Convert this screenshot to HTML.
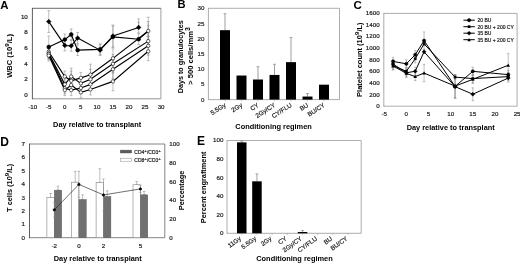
<!DOCTYPE html>
<html><head><meta charset="utf-8"><title>Figure</title>
<style>
html,body{margin:0;padding:0;background:#fff;}
body{width:520px;height:263px;overflow:hidden;}
svg{display:block;font-family:"Liberation Sans", sans-serif;filter:blur(0.3px);}
</style></head><body>
<svg width="520" height="263" viewBox="0 0 520 263">
<rect width="520" height="263" fill="#fff"/>
<line x1="160.90" y1="8.30" x2="160.90" y2="98.80" stroke="#888" stroke-width="0.8"/>
<line x1="32.40" y1="98.80" x2="160.90" y2="98.80" stroke="#777" stroke-width="0.8"/>
<line x1="32.40" y1="8.30" x2="160.90" y2="8.30" stroke="#444" stroke-width="0.8"/>
<line x1="32.40" y1="7.90" x2="32.40" y2="99.20" stroke="#333" stroke-width="0.8"/>
<text x="27.80" y="96.80" font-size="6.2" text-anchor="end" stroke="#222" stroke-width="0.18" fill="#111">0</text>
<text x="27.80" y="81.16" font-size="6.2" text-anchor="end" stroke="#222" stroke-width="0.18" fill="#111">2</text>
<text x="27.80" y="65.52" font-size="6.2" text-anchor="end" stroke="#222" stroke-width="0.18" fill="#111">4</text>
<text x="27.80" y="49.88" font-size="6.2" text-anchor="end" stroke="#222" stroke-width="0.18" fill="#111">6</text>
<text x="27.80" y="34.24" font-size="6.2" text-anchor="end" stroke="#222" stroke-width="0.18" fill="#111">8</text>
<text x="27.80" y="18.60" font-size="6.2" text-anchor="end" stroke="#222" stroke-width="0.18" fill="#111">10</text>
<text x="32.70" y="108.70" font-size="6.2" text-anchor="middle" stroke="#222" stroke-width="0.18" fill="#111">-10</text>
<text x="48.75" y="108.70" font-size="6.2" text-anchor="middle" stroke="#222" stroke-width="0.18" fill="#111">-5</text>
<text x="64.80" y="108.70" font-size="6.2" text-anchor="middle" stroke="#222" stroke-width="0.18" fill="#111">0</text>
<text x="80.85" y="108.70" font-size="6.2" text-anchor="middle" stroke="#222" stroke-width="0.18" fill="#111">5</text>
<text x="96.90" y="108.70" font-size="6.2" text-anchor="middle" stroke="#222" stroke-width="0.18" fill="#111">10</text>
<text x="112.95" y="108.70" font-size="6.2" text-anchor="middle" stroke="#222" stroke-width="0.18" fill="#111">15</text>
<text x="129.00" y="108.70" font-size="6.2" text-anchor="middle" stroke="#222" stroke-width="0.18" fill="#111">20</text>
<text x="145.05" y="108.70" font-size="6.2" text-anchor="middle" stroke="#222" stroke-width="0.18" fill="#111">25</text>
<text x="161.10" y="108.70" font-size="6.2" text-anchor="middle" stroke="#222" stroke-width="0.18" fill="#111">30</text>
<text x="97.10" y="127.40" font-size="7.4" text-anchor="middle" font-weight="bold" textLength="88" lengthAdjust="spacingAndGlyphs" fill="#000">Day relative to transplant</text>
<text x="12.50" y="55.90" font-size="7.4" text-anchor="middle" font-weight="bold" transform="rotate(-90 12.50 55.90)" textLength="43.8" lengthAdjust="spacingAndGlyphs" fill="#000">WBC (10<tspan dy="-3.4" font-size="6.2">9</tspan><tspan dy="3.4">/L)</tspan></text>
<text x="0.20" y="9.00" font-size="11.4" text-anchor="start" font-weight="bold" fill="#000">A</text>
<line x1="48.75" y1="46.22" x2="48.75" y2="57.16" stroke="#8a8a8a" stroke-width="0.55"/>
<line x1="47.35" y1="46.22" x2="50.15" y2="46.22" stroke="#8a8a8a" stroke-width="0.55"/>
<line x1="47.35" y1="57.16" x2="50.15" y2="57.16" stroke="#8a8a8a" stroke-width="0.55"/>
<line x1="64.80" y1="71.01" x2="64.80" y2="81.95" stroke="#8a8a8a" stroke-width="0.55"/>
<line x1="63.40" y1="71.01" x2="66.20" y2="71.01" stroke="#8a8a8a" stroke-width="0.55"/>
<line x1="63.40" y1="81.95" x2="66.20" y2="81.95" stroke="#8a8a8a" stroke-width="0.55"/>
<line x1="71.22" y1="75.31" x2="71.22" y2="86.25" stroke="#8a8a8a" stroke-width="0.55"/>
<line x1="69.82" y1="75.31" x2="72.62" y2="75.31" stroke="#8a8a8a" stroke-width="0.55"/>
<line x1="69.82" y1="86.25" x2="72.62" y2="86.25" stroke="#8a8a8a" stroke-width="0.55"/>
<line x1="80.85" y1="72.41" x2="80.85" y2="83.36" stroke="#8a8a8a" stroke-width="0.55"/>
<line x1="79.45" y1="72.41" x2="82.25" y2="72.41" stroke="#8a8a8a" stroke-width="0.55"/>
<line x1="79.45" y1="83.36" x2="82.25" y2="83.36" stroke="#8a8a8a" stroke-width="0.55"/>
<line x1="90.48" y1="69.21" x2="90.48" y2="80.15" stroke="#8a8a8a" stroke-width="0.55"/>
<line x1="89.08" y1="69.21" x2="91.88" y2="69.21" stroke="#8a8a8a" stroke-width="0.55"/>
<line x1="89.08" y1="80.15" x2="91.88" y2="80.15" stroke="#8a8a8a" stroke-width="0.55"/>
<line x1="112.95" y1="48.95" x2="112.95" y2="67.72" stroke="#8a8a8a" stroke-width="0.55"/>
<line x1="111.55" y1="48.95" x2="114.35" y2="48.95" stroke="#8a8a8a" stroke-width="0.55"/>
<line x1="111.55" y1="67.72" x2="114.35" y2="67.72" stroke="#8a8a8a" stroke-width="0.55"/>
<line x1="148.26" y1="21.58" x2="148.26" y2="40.35" stroke="#8a8a8a" stroke-width="0.55"/>
<line x1="146.86" y1="21.58" x2="149.66" y2="21.58" stroke="#8a8a8a" stroke-width="0.55"/>
<line x1="146.86" y1="40.35" x2="149.66" y2="40.35" stroke="#8a8a8a" stroke-width="0.55"/>
<line x1="48.75" y1="47.78" x2="48.75" y2="58.73" stroke="#8a8a8a" stroke-width="0.55"/>
<line x1="47.35" y1="47.78" x2="50.15" y2="47.78" stroke="#8a8a8a" stroke-width="0.55"/>
<line x1="47.35" y1="58.73" x2="50.15" y2="58.73" stroke="#8a8a8a" stroke-width="0.55"/>
<line x1="64.80" y1="78.90" x2="64.80" y2="89.85" stroke="#8a8a8a" stroke-width="0.55"/>
<line x1="63.40" y1="78.90" x2="66.20" y2="78.90" stroke="#8a8a8a" stroke-width="0.55"/>
<line x1="63.40" y1="89.85" x2="66.20" y2="89.85" stroke="#8a8a8a" stroke-width="0.55"/>
<line x1="71.22" y1="71.01" x2="71.22" y2="81.95" stroke="#8a8a8a" stroke-width="0.55"/>
<line x1="69.82" y1="71.01" x2="72.62" y2="71.01" stroke="#8a8a8a" stroke-width="0.55"/>
<line x1="69.82" y1="81.95" x2="72.62" y2="81.95" stroke="#8a8a8a" stroke-width="0.55"/>
<line x1="80.85" y1="77.89" x2="80.85" y2="88.84" stroke="#8a8a8a" stroke-width="0.55"/>
<line x1="79.45" y1="77.89" x2="82.25" y2="77.89" stroke="#8a8a8a" stroke-width="0.55"/>
<line x1="79.45" y1="88.84" x2="82.25" y2="88.84" stroke="#8a8a8a" stroke-width="0.55"/>
<line x1="90.48" y1="73.82" x2="90.48" y2="84.77" stroke="#8a8a8a" stroke-width="0.55"/>
<line x1="89.08" y1="73.82" x2="91.88" y2="73.82" stroke="#8a8a8a" stroke-width="0.55"/>
<line x1="89.08" y1="84.77" x2="91.88" y2="84.77" stroke="#8a8a8a" stroke-width="0.55"/>
<line x1="112.95" y1="54.43" x2="112.95" y2="73.19" stroke="#8a8a8a" stroke-width="0.55"/>
<line x1="111.55" y1="54.43" x2="114.35" y2="54.43" stroke="#8a8a8a" stroke-width="0.55"/>
<line x1="111.55" y1="73.19" x2="114.35" y2="73.19" stroke="#8a8a8a" stroke-width="0.55"/>
<line x1="148.26" y1="31.75" x2="148.26" y2="50.52" stroke="#8a8a8a" stroke-width="0.55"/>
<line x1="146.86" y1="31.75" x2="149.66" y2="31.75" stroke="#8a8a8a" stroke-width="0.55"/>
<line x1="146.86" y1="50.52" x2="149.66" y2="50.52" stroke="#8a8a8a" stroke-width="0.55"/>
<line x1="48.75" y1="48.56" x2="48.75" y2="59.51" stroke="#8a8a8a" stroke-width="0.55"/>
<line x1="47.35" y1="48.56" x2="50.15" y2="48.56" stroke="#8a8a8a" stroke-width="0.55"/>
<line x1="47.35" y1="59.51" x2="50.15" y2="59.51" stroke="#8a8a8a" stroke-width="0.55"/>
<line x1="64.80" y1="82.81" x2="64.80" y2="93.76" stroke="#8a8a8a" stroke-width="0.55"/>
<line x1="63.40" y1="82.81" x2="66.20" y2="82.81" stroke="#8a8a8a" stroke-width="0.55"/>
<line x1="63.40" y1="93.76" x2="66.20" y2="93.76" stroke="#8a8a8a" stroke-width="0.55"/>
<line x1="71.22" y1="84.69" x2="71.22" y2="95.64" stroke="#8a8a8a" stroke-width="0.55"/>
<line x1="69.82" y1="84.69" x2="72.62" y2="84.69" stroke="#8a8a8a" stroke-width="0.55"/>
<line x1="69.82" y1="95.64" x2="72.62" y2="95.64" stroke="#8a8a8a" stroke-width="0.55"/>
<line x1="80.85" y1="82.50" x2="80.85" y2="93.45" stroke="#8a8a8a" stroke-width="0.55"/>
<line x1="79.45" y1="82.50" x2="82.25" y2="82.50" stroke="#8a8a8a" stroke-width="0.55"/>
<line x1="79.45" y1="93.45" x2="82.25" y2="93.45" stroke="#8a8a8a" stroke-width="0.55"/>
<line x1="90.48" y1="78.90" x2="90.48" y2="89.85" stroke="#8a8a8a" stroke-width="0.55"/>
<line x1="89.08" y1="78.90" x2="91.88" y2="78.90" stroke="#8a8a8a" stroke-width="0.55"/>
<line x1="89.08" y1="89.85" x2="91.88" y2="89.85" stroke="#8a8a8a" stroke-width="0.55"/>
<line x1="112.95" y1="59.90" x2="112.95" y2="78.67" stroke="#8a8a8a" stroke-width="0.55"/>
<line x1="111.55" y1="59.90" x2="114.35" y2="59.90" stroke="#8a8a8a" stroke-width="0.55"/>
<line x1="111.55" y1="78.67" x2="114.35" y2="78.67" stroke="#8a8a8a" stroke-width="0.55"/>
<line x1="148.26" y1="36.44" x2="148.26" y2="55.21" stroke="#8a8a8a" stroke-width="0.55"/>
<line x1="146.86" y1="36.44" x2="149.66" y2="36.44" stroke="#8a8a8a" stroke-width="0.55"/>
<line x1="146.86" y1="55.21" x2="149.66" y2="55.21" stroke="#8a8a8a" stroke-width="0.55"/>
<line x1="48.75" y1="50.13" x2="48.75" y2="61.07" stroke="#8a8a8a" stroke-width="0.55"/>
<line x1="47.35" y1="50.13" x2="50.15" y2="50.13" stroke="#8a8a8a" stroke-width="0.55"/>
<line x1="47.35" y1="61.07" x2="50.15" y2="61.07" stroke="#8a8a8a" stroke-width="0.55"/>
<line x1="64.80" y1="84.69" x2="64.80" y2="95.64" stroke="#8a8a8a" stroke-width="0.55"/>
<line x1="63.40" y1="84.69" x2="66.20" y2="84.69" stroke="#8a8a8a" stroke-width="0.55"/>
<line x1="63.40" y1="95.64" x2="66.20" y2="95.64" stroke="#8a8a8a" stroke-width="0.55"/>
<line x1="71.22" y1="79.61" x2="71.22" y2="90.56" stroke="#8a8a8a" stroke-width="0.55"/>
<line x1="69.82" y1="79.61" x2="72.62" y2="79.61" stroke="#8a8a8a" stroke-width="0.55"/>
<line x1="69.82" y1="90.56" x2="72.62" y2="90.56" stroke="#8a8a8a" stroke-width="0.55"/>
<line x1="80.85" y1="86.88" x2="80.85" y2="97.83" stroke="#8a8a8a" stroke-width="0.55"/>
<line x1="79.45" y1="86.88" x2="82.25" y2="86.88" stroke="#8a8a8a" stroke-width="0.55"/>
<line x1="79.45" y1="97.83" x2="82.25" y2="97.83" stroke="#8a8a8a" stroke-width="0.55"/>
<line x1="90.48" y1="83.99" x2="90.48" y2="94.93" stroke="#8a8a8a" stroke-width="0.55"/>
<line x1="89.08" y1="83.99" x2="91.88" y2="83.99" stroke="#8a8a8a" stroke-width="0.55"/>
<line x1="89.08" y1="94.93" x2="91.88" y2="94.93" stroke="#8a8a8a" stroke-width="0.55"/>
<line x1="112.95" y1="72.02" x2="112.95" y2="90.79" stroke="#8a8a8a" stroke-width="0.55"/>
<line x1="111.55" y1="72.02" x2="114.35" y2="72.02" stroke="#8a8a8a" stroke-width="0.55"/>
<line x1="111.55" y1="90.79" x2="114.35" y2="90.79" stroke="#8a8a8a" stroke-width="0.55"/>
<line x1="148.26" y1="41.91" x2="148.26" y2="60.68" stroke="#8a8a8a" stroke-width="0.55"/>
<line x1="146.86" y1="41.91" x2="149.66" y2="41.91" stroke="#8a8a8a" stroke-width="0.55"/>
<line x1="146.86" y1="60.68" x2="149.66" y2="60.68" stroke="#8a8a8a" stroke-width="0.55"/>
<line x1="48.75" y1="10.64" x2="48.75" y2="32.53" stroke="#8a8a8a" stroke-width="0.55"/>
<line x1="47.35" y1="10.64" x2="50.15" y2="10.64" stroke="#8a8a8a" stroke-width="0.55"/>
<line x1="47.35" y1="32.53" x2="50.15" y2="32.53" stroke="#8a8a8a" stroke-width="0.55"/>
<line x1="64.80" y1="39.96" x2="64.80" y2="50.91" stroke="#8a8a8a" stroke-width="0.55"/>
<line x1="63.40" y1="39.96" x2="66.20" y2="39.96" stroke="#8a8a8a" stroke-width="0.55"/>
<line x1="63.40" y1="50.91" x2="66.20" y2="50.91" stroke="#8a8a8a" stroke-width="0.55"/>
<line x1="71.22" y1="40.35" x2="71.22" y2="51.30" stroke="#8a8a8a" stroke-width="0.55"/>
<line x1="69.82" y1="40.35" x2="72.62" y2="40.35" stroke="#8a8a8a" stroke-width="0.55"/>
<line x1="69.82" y1="51.30" x2="72.62" y2="51.30" stroke="#8a8a8a" stroke-width="0.55"/>
<line x1="77.64" y1="32.53" x2="77.64" y2="43.48" stroke="#8a8a8a" stroke-width="0.55"/>
<line x1="76.24" y1="32.53" x2="79.04" y2="32.53" stroke="#8a8a8a" stroke-width="0.55"/>
<line x1="76.24" y1="43.48" x2="79.04" y2="43.48" stroke="#8a8a8a" stroke-width="0.55"/>
<line x1="100.11" y1="44.65" x2="100.11" y2="55.60" stroke="#8a8a8a" stroke-width="0.55"/>
<line x1="98.71" y1="44.65" x2="101.51" y2="44.65" stroke="#8a8a8a" stroke-width="0.55"/>
<line x1="98.71" y1="55.60" x2="101.51" y2="55.60" stroke="#8a8a8a" stroke-width="0.55"/>
<line x1="112.95" y1="25.10" x2="112.95" y2="47.00" stroke="#8a8a8a" stroke-width="0.55"/>
<line x1="111.55" y1="25.10" x2="114.35" y2="25.10" stroke="#8a8a8a" stroke-width="0.55"/>
<line x1="111.55" y1="47.00" x2="114.35" y2="47.00" stroke="#8a8a8a" stroke-width="0.55"/>
<line x1="138.63" y1="21.97" x2="138.63" y2="32.92" stroke="#8a8a8a" stroke-width="0.55"/>
<line x1="137.23" y1="21.97" x2="140.03" y2="21.97" stroke="#8a8a8a" stroke-width="0.55"/>
<line x1="137.23" y1="32.92" x2="140.03" y2="32.92" stroke="#8a8a8a" stroke-width="0.55"/>
<line x1="48.75" y1="36.05" x2="48.75" y2="57.95" stroke="#8a8a8a" stroke-width="0.55"/>
<line x1="47.35" y1="36.05" x2="50.15" y2="36.05" stroke="#8a8a8a" stroke-width="0.55"/>
<line x1="47.35" y1="57.95" x2="50.15" y2="57.95" stroke="#8a8a8a" stroke-width="0.55"/>
<line x1="64.80" y1="34.09" x2="64.80" y2="45.04" stroke="#8a8a8a" stroke-width="0.55"/>
<line x1="63.40" y1="34.09" x2="66.20" y2="34.09" stroke="#8a8a8a" stroke-width="0.55"/>
<line x1="63.40" y1="45.04" x2="66.20" y2="45.04" stroke="#8a8a8a" stroke-width="0.55"/>
<line x1="71.22" y1="29.01" x2="71.22" y2="39.96" stroke="#8a8a8a" stroke-width="0.55"/>
<line x1="69.82" y1="29.01" x2="72.62" y2="29.01" stroke="#8a8a8a" stroke-width="0.55"/>
<line x1="69.82" y1="39.96" x2="72.62" y2="39.96" stroke="#8a8a8a" stroke-width="0.55"/>
<line x1="77.64" y1="44.65" x2="77.64" y2="55.60" stroke="#8a8a8a" stroke-width="0.55"/>
<line x1="76.24" y1="44.65" x2="79.04" y2="44.65" stroke="#8a8a8a" stroke-width="0.55"/>
<line x1="76.24" y1="55.60" x2="79.04" y2="55.60" stroke="#8a8a8a" stroke-width="0.55"/>
<line x1="100.11" y1="43.87" x2="100.11" y2="54.82" stroke="#8a8a8a" stroke-width="0.55"/>
<line x1="98.71" y1="43.87" x2="101.51" y2="43.87" stroke="#8a8a8a" stroke-width="0.55"/>
<line x1="98.71" y1="54.82" x2="101.51" y2="54.82" stroke="#8a8a8a" stroke-width="0.55"/>
<line x1="112.95" y1="25.88" x2="112.95" y2="47.78" stroke="#8a8a8a" stroke-width="0.55"/>
<line x1="111.55" y1="25.88" x2="114.35" y2="25.88" stroke="#8a8a8a" stroke-width="0.55"/>
<line x1="111.55" y1="47.78" x2="114.35" y2="47.78" stroke="#8a8a8a" stroke-width="0.55"/>
<line x1="138.63" y1="33.70" x2="138.63" y2="44.65" stroke="#8a8a8a" stroke-width="0.55"/>
<line x1="137.23" y1="33.70" x2="140.03" y2="33.70" stroke="#8a8a8a" stroke-width="0.55"/>
<line x1="137.23" y1="44.65" x2="140.03" y2="44.65" stroke="#8a8a8a" stroke-width="0.55"/>
<line x1="148.26" y1="25.49" x2="148.26" y2="36.44" stroke="#8a8a8a" stroke-width="0.55"/>
<line x1="146.86" y1="25.49" x2="149.66" y2="25.49" stroke="#8a8a8a" stroke-width="0.55"/>
<line x1="146.86" y1="36.44" x2="149.66" y2="36.44" stroke="#8a8a8a" stroke-width="0.55"/>
<line x1="148.26" y1="17.28" x2="148.26" y2="44.65" stroke="#8a8a8a" stroke-width="0.55"/>
<line x1="146.86" y1="17.28" x2="149.66" y2="17.28" stroke="#8a8a8a" stroke-width="0.55"/>
<line x1="146.86" y1="44.65" x2="149.66" y2="44.65" stroke="#8a8a8a" stroke-width="0.55"/>
<line x1="71.22" y1="68.11" x2="71.22" y2="76.71" stroke="#8a8a8a" stroke-width="0.55"/>
<line x1="69.82" y1="68.11" x2="72.62" y2="68.11" stroke="#8a8a8a" stroke-width="0.55"/>
<line x1="69.82" y1="76.71" x2="72.62" y2="76.71" stroke="#8a8a8a" stroke-width="0.55"/>
<line x1="90.48" y1="64.20" x2="90.48" y2="75.15" stroke="#8a8a8a" stroke-width="0.55"/>
<line x1="89.08" y1="64.20" x2="91.88" y2="64.20" stroke="#8a8a8a" stroke-width="0.55"/>
<line x1="89.08" y1="75.15" x2="91.88" y2="75.15" stroke="#8a8a8a" stroke-width="0.55"/>
<line x1="138.63" y1="18.85" x2="138.63" y2="27.45" stroke="#8a8a8a" stroke-width="0.55"/>
<line x1="137.23" y1="18.85" x2="140.03" y2="18.85" stroke="#8a8a8a" stroke-width="0.55"/>
<line x1="137.23" y1="27.45" x2="140.03" y2="27.45" stroke="#8a8a8a" stroke-width="0.55"/>
<polyline points="48.75,51.69 64.80,76.48 71.22,80.78 80.85,77.89 90.48,74.68 112.95,58.34 148.26,30.97" fill="none" stroke="#000" stroke-width="1.15"/>
<polyline points="48.75,53.25 64.80,84.38 71.22,76.48 80.85,83.36 90.48,79.29 112.95,63.81 148.26,41.13" fill="none" stroke="#000" stroke-width="1.15"/>
<polyline points="48.75,54.04 64.80,88.29 71.22,90.16 80.85,87.97 90.48,84.38 112.95,69.28 148.26,45.83" fill="none" stroke="#000" stroke-width="1.15"/>
<polyline points="48.75,55.60 64.80,90.16 71.22,85.08 80.85,92.35 90.48,89.46 112.95,81.41 148.26,51.30" fill="none" stroke="#000" stroke-width="1.15"/>
<polyline points="48.75,21.58 64.80,45.43 71.22,45.83 77.64,38.01 100.11,50.13 112.95,36.05 138.63,27.45" fill="none" stroke="#000" stroke-width="1.1"/>
<polyline points="48.75,47.00 64.80,39.57 71.22,34.49 77.64,50.13 100.11,49.34 112.95,36.83 138.63,39.18 148.26,30.97" fill="none" stroke="#000" stroke-width="1.1"/>
<circle cx="48.75" cy="51.69" r="1.7" fill="#fff" stroke="#000" stroke-width="0.6"/>
<circle cx="64.80" cy="76.48" r="1.7" fill="#fff" stroke="#000" stroke-width="0.6"/>
<circle cx="71.22" cy="80.78" r="1.7" fill="#fff" stroke="#000" stroke-width="0.6"/>
<circle cx="80.85" cy="77.89" r="1.7" fill="#fff" stroke="#000" stroke-width="0.6"/>
<circle cx="90.48" cy="74.68" r="1.7" fill="#fff" stroke="#000" stroke-width="0.6"/>
<circle cx="112.95" cy="58.34" r="1.7" fill="#fff" stroke="#000" stroke-width="0.6"/>
<circle cx="148.26" cy="30.97" r="1.7" fill="#fff" stroke="#000" stroke-width="0.6"/>
<circle cx="48.75" cy="53.25" r="1.7" fill="#fff" stroke="#000" stroke-width="0.6"/>
<circle cx="64.80" cy="84.38" r="1.7" fill="#fff" stroke="#000" stroke-width="0.6"/>
<circle cx="71.22" cy="76.48" r="1.7" fill="#fff" stroke="#000" stroke-width="0.6"/>
<circle cx="80.85" cy="83.36" r="1.7" fill="#fff" stroke="#000" stroke-width="0.6"/>
<circle cx="90.48" cy="79.29" r="1.7" fill="#fff" stroke="#000" stroke-width="0.6"/>
<circle cx="112.95" cy="63.81" r="1.7" fill="#fff" stroke="#000" stroke-width="0.6"/>
<circle cx="148.26" cy="41.13" r="1.7" fill="#fff" stroke="#000" stroke-width="0.6"/>
<circle cx="48.75" cy="54.04" r="1.7" fill="#fff" stroke="#000" stroke-width="0.6"/>
<circle cx="64.80" cy="88.29" r="1.7" fill="#fff" stroke="#000" stroke-width="0.6"/>
<circle cx="71.22" cy="90.16" r="1.7" fill="#fff" stroke="#000" stroke-width="0.6"/>
<circle cx="80.85" cy="87.97" r="1.7" fill="#fff" stroke="#000" stroke-width="0.6"/>
<circle cx="90.48" cy="84.38" r="1.7" fill="#fff" stroke="#000" stroke-width="0.6"/>
<circle cx="112.95" cy="69.28" r="1.7" fill="#fff" stroke="#000" stroke-width="0.6"/>
<circle cx="148.26" cy="45.83" r="1.7" fill="#fff" stroke="#000" stroke-width="0.6"/>
<circle cx="48.75" cy="55.60" r="1.7" fill="#fff" stroke="#000" stroke-width="0.6"/>
<circle cx="64.80" cy="90.16" r="1.7" fill="#fff" stroke="#000" stroke-width="0.6"/>
<circle cx="71.22" cy="85.08" r="1.7" fill="#fff" stroke="#000" stroke-width="0.6"/>
<circle cx="80.85" cy="92.35" r="1.7" fill="#fff" stroke="#000" stroke-width="0.6"/>
<circle cx="90.48" cy="89.46" r="1.7" fill="#fff" stroke="#000" stroke-width="0.6"/>
<circle cx="112.95" cy="81.41" r="1.7" fill="#fff" stroke="#000" stroke-width="0.6"/>
<circle cx="148.26" cy="51.30" r="1.7" fill="#fff" stroke="#000" stroke-width="0.6"/>
<polygon points="48.75,19.21 51.12,21.58 48.75,23.96 46.38,21.58" fill="#000" stroke="#000" stroke-width="0.4"/>
<polygon points="64.80,43.06 67.18,45.43 64.80,47.81 62.43,45.43" fill="#000" stroke="#000" stroke-width="0.4"/>
<polygon points="71.22,43.45 73.59,45.83 71.22,48.20 68.84,45.83" fill="#000" stroke="#000" stroke-width="0.4"/>
<polygon points="77.64,35.63 80.02,38.01 77.64,40.38 75.27,38.01" fill="#000" stroke="#000" stroke-width="0.4"/>
<polygon points="100.11,47.75 102.48,50.13 100.11,52.50 97.73,50.13" fill="#000" stroke="#000" stroke-width="0.4"/>
<polygon points="112.95,33.67 115.33,36.05 112.95,38.42 110.58,36.05" fill="#000" stroke="#000" stroke-width="0.4"/>
<polygon points="138.63,25.07 141.00,27.45 138.63,29.82 136.25,27.45" fill="#000" stroke="#000" stroke-width="0.4"/>
<circle cx="48.75" cy="47.00" r="1.9" fill="#000" stroke="#000" stroke-width="0.6"/>
<circle cx="64.80" cy="39.57" r="1.9" fill="#000" stroke="#000" stroke-width="0.6"/>
<circle cx="71.22" cy="34.49" r="1.9" fill="#000" stroke="#000" stroke-width="0.6"/>
<circle cx="77.64" cy="50.13" r="1.9" fill="#000" stroke="#000" stroke-width="0.6"/>
<circle cx="100.11" cy="49.34" r="1.9" fill="#000" stroke="#000" stroke-width="0.6"/>
<circle cx="112.95" cy="36.83" r="1.9" fill="#000" stroke="#000" stroke-width="0.6"/>
<circle cx="138.63" cy="39.18" r="1.9" fill="#000" stroke="#000" stroke-width="0.6"/>
<line x1="339.50" y1="8.30" x2="339.50" y2="99.60" stroke="#8a8a8a" stroke-width="0.7"/>
<line x1="208.40" y1="99.60" x2="339.50" y2="99.60" stroke="#8a8a8a" stroke-width="0.7"/>
<line x1="208.40" y1="8.30" x2="339.50" y2="8.30" stroke="#8a8a8a" stroke-width="0.7"/>
<line x1="208.40" y1="7.95" x2="208.40" y2="99.95" stroke="#8a8a8a" stroke-width="0.7"/>
<text x="204.40" y="101.70" font-size="6.2" text-anchor="end" stroke="#222" stroke-width="0.18" fill="#111">0</text>
<text x="204.40" y="86.47" font-size="6.2" text-anchor="end" stroke="#222" stroke-width="0.18" fill="#111">5</text>
<text x="204.40" y="71.25" font-size="6.2" text-anchor="end" stroke="#222" stroke-width="0.18" fill="#111">10</text>
<text x="204.40" y="56.02" font-size="6.2" text-anchor="end" stroke="#222" stroke-width="0.18" fill="#111">15</text>
<text x="204.40" y="40.80" font-size="6.2" text-anchor="end" stroke="#222" stroke-width="0.18" fill="#111">20</text>
<text x="204.40" y="25.57" font-size="6.2" text-anchor="end" stroke="#222" stroke-width="0.18" fill="#111">25</text>
<text x="204.40" y="10.35" font-size="6.2" text-anchor="end" stroke="#222" stroke-width="0.18" fill="#111">30</text>
<line x1="225.00" y1="13.73" x2="225.00" y2="30.17" stroke="#777" stroke-width="0.7"/>
<line x1="223.50" y1="13.73" x2="226.50" y2="13.73" stroke="#777" stroke-width="0.6"/>
<rect x="220.00" y="30.17" width="10.00" height="69.43" fill="#000" stroke="none" stroke-width="0.6"/>
<line x1="225.00" y1="99.60" x2="225.00" y2="101.20" stroke="#999" stroke-width="0.6"/>
<text x="226.30" y="106.20" font-size="6.3" text-anchor="end" stroke="#222" stroke-width="0.18" transform="rotate(-33 226.30 106.20)" fill="#111">5.5Gy</text>
<rect x="236.50" y="75.54" width="10.00" height="24.06" fill="#000" stroke="none" stroke-width="0.6"/>
<line x1="241.50" y1="99.60" x2="241.50" y2="101.20" stroke="#999" stroke-width="0.6"/>
<text x="242.80" y="106.20" font-size="6.3" text-anchor="end" stroke="#222" stroke-width="0.18" transform="rotate(-33 242.80 106.20)" fill="#111">2Gy</text>
<line x1="258.00" y1="66.71" x2="258.00" y2="79.50" stroke="#777" stroke-width="0.7"/>
<line x1="256.50" y1="66.71" x2="259.50" y2="66.71" stroke="#777" stroke-width="0.6"/>
<rect x="253.00" y="79.50" width="10.00" height="20.10" fill="#000" stroke="none" stroke-width="0.6"/>
<line x1="258.00" y1="99.60" x2="258.00" y2="101.20" stroke="#999" stroke-width="0.6"/>
<text x="259.30" y="106.20" font-size="6.3" text-anchor="end" stroke="#222" stroke-width="0.18" transform="rotate(-33 259.30 106.20)" fill="#111">CY</text>
<line x1="274.50" y1="64.28" x2="274.50" y2="74.94" stroke="#777" stroke-width="0.7"/>
<line x1="273.00" y1="64.28" x2="276.00" y2="64.28" stroke="#777" stroke-width="0.6"/>
<rect x="269.50" y="74.94" width="10.00" height="24.66" fill="#000" stroke="none" stroke-width="0.6"/>
<line x1="274.50" y1="99.60" x2="274.50" y2="101.20" stroke="#999" stroke-width="0.6"/>
<text x="275.80" y="106.20" font-size="6.3" text-anchor="end" stroke="#222" stroke-width="0.18" transform="rotate(-33 275.80 106.20)" fill="#111">2Gy/CY</text>
<line x1="291.00" y1="37.48" x2="291.00" y2="62.15" stroke="#777" stroke-width="0.7"/>
<line x1="289.50" y1="37.48" x2="292.50" y2="37.48" stroke="#777" stroke-width="0.6"/>
<rect x="286.00" y="62.15" width="10.00" height="37.45" fill="#000" stroke="none" stroke-width="0.6"/>
<line x1="291.00" y1="99.60" x2="291.00" y2="101.20" stroke="#999" stroke-width="0.6"/>
<text x="292.30" y="106.20" font-size="6.3" text-anchor="end" stroke="#222" stroke-width="0.18" transform="rotate(-33 292.30 106.20)" fill="#111">CY/FLU</text>
<line x1="307.50" y1="93.51" x2="307.50" y2="96.55" stroke="#777" stroke-width="0.7"/>
<line x1="306.00" y1="93.51" x2="309.00" y2="93.51" stroke="#777" stroke-width="0.6"/>
<rect x="302.50" y="96.55" width="10.00" height="3.05" fill="#000" stroke="none" stroke-width="0.6"/>
<line x1="307.50" y1="99.60" x2="307.50" y2="101.20" stroke="#999" stroke-width="0.6"/>
<text x="308.80" y="106.20" font-size="6.3" text-anchor="end" stroke="#222" stroke-width="0.18" transform="rotate(-33 308.80 106.20)" fill="#111">BU</text>
<rect x="319.00" y="84.68" width="10.00" height="14.92" fill="#000" stroke="none" stroke-width="0.6"/>
<line x1="324.00" y1="99.60" x2="324.00" y2="101.20" stroke="#999" stroke-width="0.6"/>
<text x="325.30" y="106.20" font-size="6.3" text-anchor="end" stroke="#222" stroke-width="0.18" transform="rotate(-33 325.30 106.20)" fill="#111">BU/CY</text>
<text x="273.60" y="129.00" font-size="7.4" text-anchor="middle" font-weight="bold" textLength="76.5" lengthAdjust="spacingAndGlyphs" fill="#000">Conditioning regimen</text>
<text x="183.30" y="56.80" font-size="7.4" text-anchor="middle" font-weight="bold" transform="rotate(-90 183.30 56.80)" textLength="73" lengthAdjust="spacingAndGlyphs" fill="#000">Days to granulocytes</text>
<text x="192.60" y="56.00" font-size="7.4" text-anchor="middle" font-weight="bold" transform="rotate(-90 192.60 56.00)" textLength="57.6" lengthAdjust="spacingAndGlyphs" fill="#000">&gt; 500 cells/mm<tspan dy="-2.6" font-size="6.8">3</tspan></text>
<text x="177.60" y="8.10" font-size="11.2" text-anchor="start" font-weight="bold" fill="#000">B</text>
<line x1="517.10" y1="13.40" x2="517.10" y2="106.20" stroke="#8a8a8a" stroke-width="0.7"/>
<line x1="383.80" y1="106.20" x2="517.10" y2="106.20" stroke="#8a8a8a" stroke-width="0.7"/>
<line x1="383.80" y1="13.40" x2="517.10" y2="13.40" stroke="#8a8a8a" stroke-width="0.7"/>
<line x1="383.80" y1="13.05" x2="383.80" y2="106.55" stroke="#8a8a8a" stroke-width="0.7"/>
<text x="379.60" y="108.20" font-size="6.2" text-anchor="end" stroke="#222" stroke-width="0.18" fill="#111">0</text>
<text x="379.60" y="96.54" font-size="6.2" text-anchor="end" stroke="#222" stroke-width="0.18" fill="#111">200</text>
<text x="379.60" y="84.87" font-size="6.2" text-anchor="end" stroke="#222" stroke-width="0.18" fill="#111">400</text>
<text x="379.60" y="73.21" font-size="6.2" text-anchor="end" stroke="#222" stroke-width="0.18" fill="#111">600</text>
<text x="379.60" y="61.55" font-size="6.2" text-anchor="end" stroke="#222" stroke-width="0.18" fill="#111">800</text>
<text x="379.60" y="49.89" font-size="6.2" text-anchor="end" stroke="#222" stroke-width="0.18" fill="#111">1000</text>
<text x="379.60" y="38.22" font-size="6.2" text-anchor="end" stroke="#222" stroke-width="0.18" fill="#111">1200</text>
<text x="379.60" y="26.56" font-size="6.2" text-anchor="end" stroke="#222" stroke-width="0.18" fill="#111">1400</text>
<text x="379.60" y="14.90" font-size="6.2" text-anchor="end" stroke="#222" stroke-width="0.18" fill="#111">1600</text>
<text x="384.20" y="116.20" font-size="6.2" text-anchor="middle" stroke="#222" stroke-width="0.18" fill="#111">-5</text>
<text x="406.35" y="116.20" font-size="6.2" text-anchor="middle" stroke="#222" stroke-width="0.18" fill="#111">0</text>
<text x="428.50" y="116.20" font-size="6.2" text-anchor="middle" stroke="#222" stroke-width="0.18" fill="#111">5</text>
<text x="450.65" y="116.20" font-size="6.2" text-anchor="middle" stroke="#222" stroke-width="0.18" fill="#111">10</text>
<text x="472.80" y="116.20" font-size="6.2" text-anchor="middle" stroke="#222" stroke-width="0.18" fill="#111">15</text>
<text x="494.95" y="116.20" font-size="6.2" text-anchor="middle" stroke="#222" stroke-width="0.18" fill="#111">20</text>
<text x="517.10" y="116.20" font-size="6.2" text-anchor="middle" stroke="#222" stroke-width="0.18" fill="#111">25</text>
<text x="450.70" y="129.60" font-size="7.4" text-anchor="middle" font-weight="bold" textLength="88" lengthAdjust="spacingAndGlyphs" fill="#000">Day relative to transplant</text>
<text x="362.20" y="59.70" font-size="7.4" text-anchor="middle" font-weight="bold" transform="rotate(-90 362.20 59.70)" textLength="74.4" lengthAdjust="spacingAndGlyphs" fill="#000">Platelet count (10<tspan dy="-3.4" font-size="6.2">9</tspan><tspan dy="3.4">/L)</tspan></text>
<text x="353.50" y="9.30" font-size="11.5" text-anchor="start" font-weight="bold" fill="#000">C</text>
<line x1="393.06" y1="57.37" x2="393.06" y2="65.49" stroke="#8a8a8a" stroke-width="0.55"/>
<line x1="391.86" y1="57.37" x2="394.26" y2="57.37" stroke="#8a8a8a" stroke-width="0.55"/>
<line x1="391.86" y1="65.49" x2="394.26" y2="65.49" stroke="#8a8a8a" stroke-width="0.55"/>
<line x1="406.35" y1="59.75" x2="406.35" y2="67.86" stroke="#8a8a8a" stroke-width="0.55"/>
<line x1="405.15" y1="59.75" x2="407.55" y2="59.75" stroke="#8a8a8a" stroke-width="0.55"/>
<line x1="405.15" y1="67.86" x2="407.55" y2="67.86" stroke="#8a8a8a" stroke-width="0.55"/>
<line x1="415.21" y1="50.71" x2="415.21" y2="58.82" stroke="#8a8a8a" stroke-width="0.55"/>
<line x1="414.01" y1="50.71" x2="416.41" y2="50.71" stroke="#8a8a8a" stroke-width="0.55"/>
<line x1="414.01" y1="58.82" x2="416.41" y2="58.82" stroke="#8a8a8a" stroke-width="0.55"/>
<line x1="424.07" y1="31.94" x2="424.07" y2="49.32" stroke="#8a8a8a" stroke-width="0.55"/>
<line x1="422.87" y1="31.94" x2="425.27" y2="31.94" stroke="#8a8a8a" stroke-width="0.55"/>
<line x1="422.87" y1="49.32" x2="425.27" y2="49.32" stroke="#8a8a8a" stroke-width="0.55"/>
<line x1="455.08" y1="74.81" x2="455.08" y2="97.99" stroke="#8a8a8a" stroke-width="0.55"/>
<line x1="453.88" y1="74.81" x2="456.28" y2="74.81" stroke="#8a8a8a" stroke-width="0.55"/>
<line x1="453.88" y1="97.99" x2="456.28" y2="97.99" stroke="#8a8a8a" stroke-width="0.55"/>
<line x1="472.80" y1="67.28" x2="472.80" y2="75.39" stroke="#8a8a8a" stroke-width="0.55"/>
<line x1="471.60" y1="67.28" x2="474.00" y2="67.28" stroke="#8a8a8a" stroke-width="0.55"/>
<line x1="471.60" y1="75.39" x2="474.00" y2="75.39" stroke="#8a8a8a" stroke-width="0.55"/>
<line x1="508.24" y1="70.58" x2="508.24" y2="78.70" stroke="#8a8a8a" stroke-width="0.55"/>
<line x1="507.04" y1="70.58" x2="509.44" y2="70.58" stroke="#8a8a8a" stroke-width="0.55"/>
<line x1="507.04" y1="78.70" x2="509.44" y2="78.70" stroke="#8a8a8a" stroke-width="0.55"/>
<line x1="393.06" y1="61.49" x2="393.06" y2="69.60" stroke="#8a8a8a" stroke-width="0.55"/>
<line x1="391.86" y1="61.49" x2="394.26" y2="61.49" stroke="#8a8a8a" stroke-width="0.55"/>
<line x1="391.86" y1="69.60" x2="394.26" y2="69.60" stroke="#8a8a8a" stroke-width="0.55"/>
<line x1="406.35" y1="67.22" x2="406.35" y2="75.34" stroke="#8a8a8a" stroke-width="0.55"/>
<line x1="405.15" y1="67.22" x2="407.55" y2="67.22" stroke="#8a8a8a" stroke-width="0.55"/>
<line x1="405.15" y1="75.34" x2="407.55" y2="75.34" stroke="#8a8a8a" stroke-width="0.55"/>
<line x1="415.21" y1="54.71" x2="415.21" y2="62.82" stroke="#8a8a8a" stroke-width="0.55"/>
<line x1="414.01" y1="54.71" x2="416.41" y2="54.71" stroke="#8a8a8a" stroke-width="0.55"/>
<line x1="414.01" y1="62.82" x2="416.41" y2="62.82" stroke="#8a8a8a" stroke-width="0.55"/>
<line x1="424.07" y1="42.14" x2="424.07" y2="45.61" stroke="#8a8a8a" stroke-width="0.55"/>
<line x1="422.87" y1="42.14" x2="425.27" y2="42.14" stroke="#8a8a8a" stroke-width="0.55"/>
<line x1="422.87" y1="45.61" x2="425.27" y2="45.61" stroke="#8a8a8a" stroke-width="0.55"/>
<line x1="455.08" y1="74.81" x2="455.08" y2="79.45" stroke="#8a8a8a" stroke-width="0.55"/>
<line x1="453.88" y1="74.81" x2="456.28" y2="74.81" stroke="#8a8a8a" stroke-width="0.55"/>
<line x1="453.88" y1="79.45" x2="456.28" y2="79.45" stroke="#8a8a8a" stroke-width="0.55"/>
<line x1="472.80" y1="74.52" x2="472.80" y2="82.64" stroke="#8a8a8a" stroke-width="0.55"/>
<line x1="471.60" y1="74.52" x2="474.00" y2="74.52" stroke="#8a8a8a" stroke-width="0.55"/>
<line x1="471.60" y1="82.64" x2="474.00" y2="82.64" stroke="#8a8a8a" stroke-width="0.55"/>
<line x1="508.24" y1="72.55" x2="508.24" y2="80.67" stroke="#8a8a8a" stroke-width="0.55"/>
<line x1="507.04" y1="72.55" x2="509.44" y2="72.55" stroke="#8a8a8a" stroke-width="0.55"/>
<line x1="507.04" y1="80.67" x2="509.44" y2="80.67" stroke="#8a8a8a" stroke-width="0.55"/>
<line x1="393.06" y1="59.98" x2="393.06" y2="68.09" stroke="#8a8a8a" stroke-width="0.55"/>
<line x1="391.86" y1="59.98" x2="394.26" y2="59.98" stroke="#8a8a8a" stroke-width="0.55"/>
<line x1="391.86" y1="68.09" x2="394.26" y2="68.09" stroke="#8a8a8a" stroke-width="0.55"/>
<line x1="406.35" y1="68.73" x2="406.35" y2="76.84" stroke="#8a8a8a" stroke-width="0.55"/>
<line x1="405.15" y1="68.73" x2="407.55" y2="68.73" stroke="#8a8a8a" stroke-width="0.55"/>
<line x1="405.15" y1="76.84" x2="407.55" y2="76.84" stroke="#8a8a8a" stroke-width="0.55"/>
<line x1="415.21" y1="67.22" x2="415.21" y2="75.34" stroke="#8a8a8a" stroke-width="0.55"/>
<line x1="414.01" y1="67.22" x2="416.41" y2="67.22" stroke="#8a8a8a" stroke-width="0.55"/>
<line x1="414.01" y1="75.34" x2="416.41" y2="75.34" stroke="#8a8a8a" stroke-width="0.55"/>
<line x1="424.07" y1="50.07" x2="424.07" y2="53.55" stroke="#8a8a8a" stroke-width="0.55"/>
<line x1="422.87" y1="50.07" x2="425.27" y2="50.07" stroke="#8a8a8a" stroke-width="0.55"/>
<line x1="422.87" y1="53.55" x2="425.27" y2="53.55" stroke="#8a8a8a" stroke-width="0.55"/>
<line x1="455.08" y1="75.05" x2="455.08" y2="98.22" stroke="#8a8a8a" stroke-width="0.55"/>
<line x1="453.88" y1="75.05" x2="456.28" y2="75.05" stroke="#8a8a8a" stroke-width="0.55"/>
<line x1="453.88" y1="98.22" x2="456.28" y2="98.22" stroke="#8a8a8a" stroke-width="0.55"/>
<line x1="472.80" y1="87.85" x2="472.80" y2="100.60" stroke="#8a8a8a" stroke-width="0.55"/>
<line x1="471.60" y1="87.85" x2="474.00" y2="87.85" stroke="#8a8a8a" stroke-width="0.55"/>
<line x1="471.60" y1="100.60" x2="474.00" y2="100.60" stroke="#8a8a8a" stroke-width="0.55"/>
<line x1="508.24" y1="74.00" x2="508.24" y2="82.11" stroke="#8a8a8a" stroke-width="0.55"/>
<line x1="507.04" y1="74.00" x2="509.44" y2="74.00" stroke="#8a8a8a" stroke-width="0.55"/>
<line x1="507.04" y1="82.11" x2="509.44" y2="82.11" stroke="#8a8a8a" stroke-width="0.55"/>
<line x1="393.06" y1="61.89" x2="393.06" y2="70.00" stroke="#8a8a8a" stroke-width="0.55"/>
<line x1="391.86" y1="61.89" x2="394.26" y2="61.89" stroke="#8a8a8a" stroke-width="0.55"/>
<line x1="391.86" y1="70.00" x2="394.26" y2="70.00" stroke="#8a8a8a" stroke-width="0.55"/>
<line x1="406.35" y1="69.31" x2="406.35" y2="77.42" stroke="#8a8a8a" stroke-width="0.55"/>
<line x1="405.15" y1="69.31" x2="407.55" y2="69.31" stroke="#8a8a8a" stroke-width="0.55"/>
<line x1="405.15" y1="77.42" x2="407.55" y2="77.42" stroke="#8a8a8a" stroke-width="0.55"/>
<line x1="415.21" y1="72.55" x2="415.21" y2="80.67" stroke="#8a8a8a" stroke-width="0.55"/>
<line x1="414.01" y1="72.55" x2="416.41" y2="72.55" stroke="#8a8a8a" stroke-width="0.55"/>
<line x1="414.01" y1="80.67" x2="416.41" y2="80.67" stroke="#8a8a8a" stroke-width="0.55"/>
<line x1="424.07" y1="64.38" x2="424.07" y2="81.77" stroke="#8a8a8a" stroke-width="0.55"/>
<line x1="422.87" y1="64.38" x2="425.27" y2="64.38" stroke="#8a8a8a" stroke-width="0.55"/>
<line x1="422.87" y1="81.77" x2="425.27" y2="81.77" stroke="#8a8a8a" stroke-width="0.55"/>
<line x1="455.08" y1="74.52" x2="455.08" y2="97.70" stroke="#8a8a8a" stroke-width="0.55"/>
<line x1="453.88" y1="74.52" x2="456.28" y2="74.52" stroke="#8a8a8a" stroke-width="0.55"/>
<line x1="453.88" y1="97.70" x2="456.28" y2="97.70" stroke="#8a8a8a" stroke-width="0.55"/>
<line x1="472.80" y1="75.28" x2="472.80" y2="83.39" stroke="#8a8a8a" stroke-width="0.55"/>
<line x1="471.60" y1="75.28" x2="474.00" y2="75.28" stroke="#8a8a8a" stroke-width="0.55"/>
<line x1="471.60" y1="83.39" x2="474.00" y2="83.39" stroke="#8a8a8a" stroke-width="0.55"/>
<line x1="508.24" y1="53.67" x2="508.24" y2="76.84" stroke="#8a8a8a" stroke-width="0.55"/>
<line x1="507.04" y1="53.67" x2="509.44" y2="53.67" stroke="#8a8a8a" stroke-width="0.55"/>
<line x1="507.04" y1="76.84" x2="509.44" y2="76.84" stroke="#8a8a8a" stroke-width="0.55"/>
<polyline points="393.06,61.43 406.35,63.81 415.21,54.77 424.07,40.63 455.08,86.40 472.80,71.34 508.24,74.64" fill="none" stroke="#000" stroke-width="1.0"/>
<polyline points="393.06,65.54 406.35,71.28 415.21,58.77 424.07,43.88 455.08,77.13 472.80,78.58 508.24,76.61" fill="none" stroke="#000" stroke-width="1.0"/>
<polyline points="393.06,64.04 406.35,72.79 415.21,71.28 424.07,51.81 455.08,86.63 472.80,94.22 508.24,78.06" fill="none" stroke="#000" stroke-width="1.0"/>
<polyline points="393.06,65.95 406.35,73.37 415.21,76.61 424.07,73.08 455.08,86.11 472.80,79.33 508.24,65.25" fill="none" stroke="#000" stroke-width="1.0"/>
<circle cx="393.06" cy="61.43" r="1.6" fill="#000" stroke="#000" stroke-width="0.6"/>
<circle cx="406.35" cy="63.81" r="1.6" fill="#000" stroke="#000" stroke-width="0.6"/>
<circle cx="415.21" cy="54.77" r="1.6" fill="#000" stroke="#000" stroke-width="0.6"/>
<circle cx="424.07" cy="40.63" r="1.6" fill="#000" stroke="#000" stroke-width="0.6"/>
<circle cx="455.08" cy="86.40" r="1.6" fill="#000" stroke="#000" stroke-width="0.6"/>
<circle cx="472.80" cy="71.34" r="1.6" fill="#000" stroke="#000" stroke-width="0.6"/>
<circle cx="508.24" cy="74.64" r="1.6" fill="#000" stroke="#000" stroke-width="0.6"/>
<rect x="391.70" y="64.18" width="2.72" height="2.72" fill="#000"/>
<rect x="404.99" y="69.92" width="2.72" height="2.72" fill="#000"/>
<rect x="413.85" y="57.41" width="2.72" height="2.72" fill="#000"/>
<rect x="422.71" y="42.52" width="2.72" height="2.72" fill="#000"/>
<rect x="453.72" y="75.77" width="2.72" height="2.72" fill="#000"/>
<rect x="471.44" y="77.22" width="2.72" height="2.72" fill="#000"/>
<rect x="506.88" y="75.25" width="2.72" height="2.72" fill="#000"/>
<polygon points="393.06,62.04 395.06,64.04 393.06,66.04 391.06,64.04" fill="#000" stroke="#000" stroke-width="0.4"/>
<polygon points="406.35,70.79 408.35,72.79 406.35,74.79 404.35,72.79" fill="#000" stroke="#000" stroke-width="0.4"/>
<polygon points="415.21,69.28 417.21,71.28 415.21,73.28 413.21,71.28" fill="#000" stroke="#000" stroke-width="0.4"/>
<polygon points="424.07,49.81 426.07,51.81 424.07,53.81 422.07,51.81" fill="#000" stroke="#000" stroke-width="0.4"/>
<polygon points="455.08,84.63 457.08,86.63 455.08,88.63 453.08,86.63" fill="#000" stroke="#000" stroke-width="0.4"/>
<polygon points="472.80,92.22 474.80,94.22 472.80,96.22 470.80,94.22" fill="#000" stroke="#000" stroke-width="0.4"/>
<polygon points="508.24,76.06 510.24,78.06 508.24,80.06 506.24,78.06" fill="#000" stroke="#000" stroke-width="0.4"/>
<polygon points="393.06,64.19 394.82,67.39 391.30,67.39" fill="#000"/>
<polygon points="406.35,71.61 408.11,74.81 404.59,74.81" fill="#000"/>
<polygon points="415.21,74.85 416.97,78.05 413.45,78.05" fill="#000"/>
<polygon points="424.07,71.32 425.83,74.52 422.31,74.52" fill="#000"/>
<polygon points="455.08,84.35 456.84,87.55 453.32,87.55" fill="#000"/>
<polygon points="472.80,77.57 474.56,80.77 471.04,80.77" fill="#000"/>
<polygon points="508.24,63.49 510.00,66.69 506.48,66.69" fill="#000"/>
<line x1="463.40" y1="20.20" x2="474.80" y2="20.20" stroke="#000" stroke-width="1.0"/>
<circle cx="469.10" cy="20.20" r="1.6" fill="#000" stroke="#000" stroke-width="0.6"/>
<text x="477.50" y="22.00" font-size="5.0" text-anchor="start" stroke="#222" stroke-width="0.18" fill="#111">20 BU</text>
<line x1="463.40" y1="26.70" x2="474.80" y2="26.70" stroke="#000" stroke-width="1.0"/>
<rect x="467.74" y="25.34" width="2.72" height="2.72" fill="#000"/>
<text x="477.50" y="28.50" font-size="5.0" text-anchor="start" stroke="#222" stroke-width="0.18" fill="#111">20 BU + 200 CY</text>
<line x1="463.40" y1="33.20" x2="474.80" y2="33.20" stroke="#000" stroke-width="1.0"/>
<polygon points="469.10,31.20 471.10,33.20 469.10,35.20 467.10,33.20" fill="#000" stroke="#000" stroke-width="0.4"/>
<text x="477.50" y="35.00" font-size="5.0" text-anchor="start" stroke="#222" stroke-width="0.18" fill="#111">35 BU</text>
<line x1="463.40" y1="39.70" x2="474.80" y2="39.70" stroke="#000" stroke-width="1.0"/>
<polygon points="469.10,37.94 470.86,41.14 467.34,41.14" fill="#000"/>
<text x="477.50" y="41.50" font-size="5.0" text-anchor="start" stroke="#222" stroke-width="0.18" fill="#111">35 BU + 200 CY</text>
<line x1="164.80" y1="144.00" x2="164.80" y2="237.70" stroke="#666" stroke-width="0.8"/>
<line x1="29.50" y1="237.70" x2="164.80" y2="237.70" stroke="#666" stroke-width="0.8"/>
<line x1="29.50" y1="144.00" x2="164.80" y2="144.00" stroke="#666" stroke-width="0.8"/>
<line x1="29.50" y1="143.60" x2="29.50" y2="238.10" stroke="#333" stroke-width="0.8"/>
<text x="24.90" y="239.80" font-size="6.2" text-anchor="end" stroke="#222" stroke-width="0.18" fill="#111">0</text>
<text x="24.90" y="226.40" font-size="6.2" text-anchor="end" stroke="#222" stroke-width="0.18" fill="#111">1</text>
<text x="24.90" y="213.00" font-size="6.2" text-anchor="end" stroke="#222" stroke-width="0.18" fill="#111">2</text>
<text x="24.90" y="199.60" font-size="6.2" text-anchor="end" stroke="#222" stroke-width="0.18" fill="#111">3</text>
<text x="24.90" y="186.20" font-size="6.2" text-anchor="end" stroke="#222" stroke-width="0.18" fill="#111">4</text>
<text x="24.90" y="172.80" font-size="6.2" text-anchor="end" stroke="#222" stroke-width="0.18" fill="#111">5</text>
<text x="24.90" y="159.40" font-size="6.2" text-anchor="end" stroke="#222" stroke-width="0.18" fill="#111">6</text>
<text x="24.90" y="146.00" font-size="6.2" text-anchor="end" stroke="#222" stroke-width="0.18" fill="#111">7</text>
<text x="169.30" y="239.80" font-size="6.2" text-anchor="start" stroke="#222" stroke-width="0.18" fill="#111">0</text>
<text x="169.30" y="221.04" font-size="6.2" text-anchor="start" stroke="#222" stroke-width="0.18" fill="#111">20</text>
<text x="169.30" y="202.28" font-size="6.2" text-anchor="start" stroke="#222" stroke-width="0.18" fill="#111">40</text>
<text x="169.30" y="183.52" font-size="6.2" text-anchor="start" stroke="#222" stroke-width="0.18" fill="#111">60</text>
<text x="169.30" y="164.76" font-size="6.2" text-anchor="start" stroke="#222" stroke-width="0.18" fill="#111">80</text>
<text x="169.30" y="146.00" font-size="6.2" text-anchor="start" stroke="#222" stroke-width="0.18" fill="#111">100</text>
<text x="54.30" y="248.00" font-size="6.2" text-anchor="middle" stroke="#222" stroke-width="0.18" fill="#111">-2</text>
<text x="78.90" y="248.00" font-size="6.2" text-anchor="middle" stroke="#222" stroke-width="0.18" fill="#111">0</text>
<text x="103.50" y="248.00" font-size="6.2" text-anchor="middle" stroke="#222" stroke-width="0.18" fill="#111">2</text>
<text x="140.40" y="248.00" font-size="6.2" text-anchor="middle" stroke="#222" stroke-width="0.18" fill="#111">5</text>
<text x="97.80" y="260.90" font-size="7.4" text-anchor="middle" font-weight="bold" textLength="88" lengthAdjust="spacingAndGlyphs" fill="#000">Day relative to transplant</text>
<text x="12.10" y="187.80" font-size="7.4" text-anchor="middle" font-weight="bold" transform="rotate(-90 12.10 187.80)" fill="#000">T cells (10<tspan dy="-3.4" font-size="6.2">9</tspan><tspan dy="3.4">/L)</tspan></text>
<text x="184.00" y="190.40" font-size="7.4" text-anchor="middle" font-weight="bold" transform="rotate(-90 184.00 190.40)" textLength="39.5" lengthAdjust="spacingAndGlyphs" fill="#000">Percentage</text>
<text x="0.30" y="145.70" font-size="12" text-anchor="start" font-weight="bold" fill="#000">D</text>
<line x1="50.60" y1="193.48" x2="50.60" y2="197.50" stroke="#8a8a8a" stroke-width="0.55"/>
<line x1="49.30" y1="193.48" x2="51.90" y2="193.48" stroke="#8a8a8a" stroke-width="0.55"/>
<line x1="49.30" y1="197.50" x2="51.90" y2="197.50" stroke="#8a8a8a" stroke-width="0.55"/>
<line x1="58.00" y1="186.11" x2="58.00" y2="190.13" stroke="#8a8a8a" stroke-width="0.55"/>
<line x1="56.70" y1="186.11" x2="59.30" y2="186.11" stroke="#8a8a8a" stroke-width="0.55"/>
<line x1="56.70" y1="190.13" x2="59.30" y2="190.13" stroke="#8a8a8a" stroke-width="0.55"/>
<rect x="46.90" y="197.50" width="7.40" height="40.20" fill="#fff" stroke="#777" stroke-width="0.55"/>
<rect x="54.30" y="190.13" width="7.40" height="47.57" fill="#707070" stroke="#555" stroke-width="0.4"/>
<line x1="75.20" y1="171.37" x2="75.20" y2="182.22" stroke="#8a8a8a" stroke-width="0.55"/>
<line x1="73.90" y1="171.37" x2="76.50" y2="171.37" stroke="#8a8a8a" stroke-width="0.55"/>
<line x1="73.90" y1="182.22" x2="76.50" y2="182.22" stroke="#8a8a8a" stroke-width="0.55"/>
<line x1="82.60" y1="194.82" x2="82.60" y2="199.51" stroke="#8a8a8a" stroke-width="0.55"/>
<line x1="81.30" y1="194.82" x2="83.90" y2="194.82" stroke="#8a8a8a" stroke-width="0.55"/>
<line x1="81.30" y1="199.51" x2="83.90" y2="199.51" stroke="#8a8a8a" stroke-width="0.55"/>
<rect x="71.50" y="182.22" width="7.40" height="55.48" fill="#fff" stroke="#777" stroke-width="0.55"/>
<rect x="78.90" y="199.51" width="7.40" height="38.19" fill="#707070" stroke="#555" stroke-width="0.4"/>
<line x1="99.80" y1="168.69" x2="99.80" y2="182.49" stroke="#8a8a8a" stroke-width="0.55"/>
<line x1="98.50" y1="168.69" x2="101.10" y2="168.69" stroke="#8a8a8a" stroke-width="0.55"/>
<line x1="98.50" y1="182.49" x2="101.10" y2="182.49" stroke="#8a8a8a" stroke-width="0.55"/>
<line x1="107.20" y1="190.80" x2="107.20" y2="196.43" stroke="#8a8a8a" stroke-width="0.55"/>
<line x1="105.90" y1="190.80" x2="108.50" y2="190.80" stroke="#8a8a8a" stroke-width="0.55"/>
<line x1="105.90" y1="196.43" x2="108.50" y2="196.43" stroke="#8a8a8a" stroke-width="0.55"/>
<rect x="96.10" y="182.49" width="7.40" height="55.21" fill="#fff" stroke="#777" stroke-width="0.55"/>
<rect x="103.50" y="196.43" width="7.40" height="41.27" fill="#707070" stroke="#555" stroke-width="0.4"/>
<line x1="136.70" y1="181.42" x2="136.70" y2="184.77" stroke="#8a8a8a" stroke-width="0.55"/>
<line x1="135.40" y1="181.42" x2="138.00" y2="181.42" stroke="#8a8a8a" stroke-width="0.55"/>
<line x1="135.40" y1="184.77" x2="138.00" y2="184.77" stroke="#8a8a8a" stroke-width="0.55"/>
<line x1="144.10" y1="191.47" x2="144.10" y2="194.82" stroke="#8a8a8a" stroke-width="0.55"/>
<line x1="142.80" y1="191.47" x2="145.40" y2="191.47" stroke="#8a8a8a" stroke-width="0.55"/>
<line x1="142.80" y1="194.82" x2="145.40" y2="194.82" stroke="#8a8a8a" stroke-width="0.55"/>
<rect x="133.00" y="184.77" width="7.40" height="52.93" fill="#fff" stroke="#777" stroke-width="0.55"/>
<rect x="140.40" y="194.82" width="7.40" height="42.88" fill="#707070" stroke="#555" stroke-width="0.4"/>
<line x1="54.30" y1="202.34" x2="54.30" y2="217.35" stroke="#8a8a8a" stroke-width="0.55"/>
<line x1="53.10" y1="202.34" x2="55.50" y2="202.34" stroke="#8a8a8a" stroke-width="0.55"/>
<line x1="53.10" y1="217.35" x2="55.50" y2="217.35" stroke="#8a8a8a" stroke-width="0.55"/>
<line x1="78.90" y1="171.29" x2="78.90" y2="197.55" stroke="#8a8a8a" stroke-width="0.55"/>
<line x1="77.70" y1="171.29" x2="80.10" y2="171.29" stroke="#8a8a8a" stroke-width="0.55"/>
<line x1="77.70" y1="197.55" x2="80.10" y2="197.55" stroke="#8a8a8a" stroke-width="0.55"/>
<line x1="103.50" y1="178.98" x2="103.50" y2="210.87" stroke="#8a8a8a" stroke-width="0.55"/>
<line x1="102.30" y1="178.98" x2="104.70" y2="178.98" stroke="#8a8a8a" stroke-width="0.55"/>
<line x1="102.30" y1="210.87" x2="104.70" y2="210.87" stroke="#8a8a8a" stroke-width="0.55"/>
<line x1="140.40" y1="185.17" x2="140.40" y2="192.68" stroke="#8a8a8a" stroke-width="0.55"/>
<line x1="139.20" y1="185.17" x2="141.60" y2="185.17" stroke="#8a8a8a" stroke-width="0.55"/>
<line x1="139.20" y1="192.68" x2="141.60" y2="192.68" stroke="#8a8a8a" stroke-width="0.55"/>
<polyline points="54.30,209.84 78.90,184.42 103.50,194.93 140.40,188.92" fill="none" stroke="#222" stroke-width="0.65"/>
<circle cx="54.30" cy="209.84" r="1.2" fill="#000" stroke="#000" stroke-width="0.6"/>
<circle cx="78.90" cy="184.42" r="1.2" fill="#000" stroke="#000" stroke-width="0.6"/>
<circle cx="103.50" cy="194.93" r="1.2" fill="#000" stroke="#000" stroke-width="0.6"/>
<circle cx="140.40" cy="188.92" r="1.2" fill="#000" stroke="#000" stroke-width="0.6"/>
<rect x="120.30" y="150.10" width="11.40" height="2.90" fill="#5c5c5c" stroke="#555" stroke-width="0.4"/>
<rect x="120.30" y="158.20" width="11.40" height="3.00" fill="#fff" stroke="#8a8a8a" stroke-width="0.5"/>
<text x="134.30" y="153.70" font-size="5" text-anchor="start" stroke="#222" stroke-width="0.18" fill="#111">CD4<tspan dy="-1.7" font-size="4.4">+</tspan><tspan dy="1.7">/CD3</tspan><tspan dy="-1.7" font-size="4.4">+</tspan></text>
<text x="134.30" y="161.70" font-size="5" text-anchor="start" stroke="#222" stroke-width="0.18" fill="#111">CD8<tspan dy="-1.7" font-size="4.4">+</tspan><tspan dy="1.7">/CD3</tspan><tspan dy="-1.7" font-size="4.4">+</tspan></text>
<line x1="361.20" y1="140.50" x2="361.20" y2="233.30" stroke="#8a8a8a" stroke-width="0.7"/>
<line x1="227.00" y1="233.30" x2="361.20" y2="233.30" stroke="#8a8a8a" stroke-width="0.7"/>
<line x1="227.00" y1="140.50" x2="361.20" y2="140.50" stroke="#8a8a8a" stroke-width="0.7"/>
<line x1="227.00" y1="140.15" x2="227.00" y2="233.65" stroke="#8a8a8a" stroke-width="0.7"/>
<text x="223.40" y="235.20" font-size="6.2" text-anchor="end" stroke="#222" stroke-width="0.18" fill="#111">0</text>
<text x="223.40" y="216.64" font-size="6.2" text-anchor="end" stroke="#222" stroke-width="0.18" fill="#111">20</text>
<text x="223.40" y="198.08" font-size="6.2" text-anchor="end" stroke="#222" stroke-width="0.18" fill="#111">40</text>
<text x="223.40" y="179.52" font-size="6.2" text-anchor="end" stroke="#222" stroke-width="0.18" fill="#111">60</text>
<text x="223.40" y="160.96" font-size="6.2" text-anchor="end" stroke="#222" stroke-width="0.18" fill="#111">80</text>
<text x="223.40" y="142.40" font-size="6.2" text-anchor="end" stroke="#222" stroke-width="0.18" fill="#111">100</text>
<line x1="241.75" y1="140.96" x2="241.75" y2="142.36" stroke="#777" stroke-width="0.7"/>
<line x1="240.30" y1="140.96" x2="243.20" y2="140.96" stroke="#777" stroke-width="0.6"/>
<rect x="237.00" y="142.36" width="9.50" height="90.94" fill="#000" stroke="none" stroke-width="0.6"/>
<line x1="241.75" y1="233.30" x2="241.75" y2="234.90" stroke="#999" stroke-width="0.6"/>
<text x="241.60" y="239.50" font-size="6.3" text-anchor="end" stroke="#222" stroke-width="0.18" transform="rotate(-36 241.60 239.50)" fill="#111">11Gy</text>
<line x1="256.95" y1="173.91" x2="256.95" y2="181.33" stroke="#777" stroke-width="0.7"/>
<line x1="255.50" y1="173.91" x2="258.40" y2="173.91" stroke="#777" stroke-width="0.6"/>
<rect x="252.20" y="181.33" width="9.50" height="51.97" fill="#000" stroke="none" stroke-width="0.6"/>
<line x1="256.95" y1="233.30" x2="256.95" y2="234.90" stroke="#999" stroke-width="0.6"/>
<text x="256.80" y="239.50" font-size="6.3" text-anchor="end" stroke="#222" stroke-width="0.18" transform="rotate(-36 256.80 239.50)" fill="#111">5.5Gy</text>
<line x1="272.15" y1="233.30" x2="272.15" y2="234.90" stroke="#999" stroke-width="0.6"/>
<text x="272.00" y="239.50" font-size="6.3" text-anchor="end" stroke="#222" stroke-width="0.18" transform="rotate(-36 272.00 239.50)" fill="#111">2Gy</text>
<line x1="287.35" y1="233.30" x2="287.35" y2="234.90" stroke="#999" stroke-width="0.6"/>
<text x="287.20" y="239.50" font-size="6.3" text-anchor="end" stroke="#222" stroke-width="0.18" transform="rotate(-36 287.20 239.50)" fill="#111">CY</text>
<line x1="302.55" y1="230.52" x2="302.55" y2="232.00" stroke="#777" stroke-width="0.7"/>
<line x1="301.10" y1="230.52" x2="304.00" y2="230.52" stroke="#777" stroke-width="0.6"/>
<rect x="297.80" y="232.00" width="9.50" height="1.30" fill="#000" stroke="none" stroke-width="0.6"/>
<line x1="302.55" y1="233.30" x2="302.55" y2="234.90" stroke="#999" stroke-width="0.6"/>
<text x="302.40" y="239.50" font-size="6.3" text-anchor="end" stroke="#222" stroke-width="0.18" transform="rotate(-36 302.40 239.50)" fill="#111">2Gy/CY</text>
<line x1="317.75" y1="233.30" x2="317.75" y2="234.90" stroke="#999" stroke-width="0.6"/>
<text x="317.60" y="239.50" font-size="6.3" text-anchor="end" stroke="#222" stroke-width="0.18" transform="rotate(-36 317.60 239.50)" fill="#111">CY/FLU</text>
<line x1="332.95" y1="233.30" x2="332.95" y2="234.90" stroke="#999" stroke-width="0.6"/>
<text x="332.80" y="239.50" font-size="6.3" text-anchor="end" stroke="#222" stroke-width="0.18" transform="rotate(-36 332.80 239.50)" fill="#111">BU</text>
<line x1="348.15" y1="233.30" x2="348.15" y2="234.90" stroke="#999" stroke-width="0.6"/>
<text x="348.00" y="239.50" font-size="6.3" text-anchor="end" stroke="#222" stroke-width="0.18" transform="rotate(-36 348.00 239.50)" fill="#111">BU/CY</text>
<text x="294.50" y="260.90" font-size="7.4" text-anchor="middle" font-weight="bold" textLength="76.5" lengthAdjust="spacingAndGlyphs" fill="#000">Conditioning regimen</text>
<text x="205.80" y="187.40" font-size="7.4" text-anchor="middle" font-weight="bold" transform="rotate(-90 205.80 187.40)" textLength="71.5" lengthAdjust="spacingAndGlyphs" fill="#000">Percent engraftment</text>
<text x="197.00" y="145.20" font-size="12" text-anchor="start" font-weight="bold" fill="#000">E</text>
</svg>
</body></html>
